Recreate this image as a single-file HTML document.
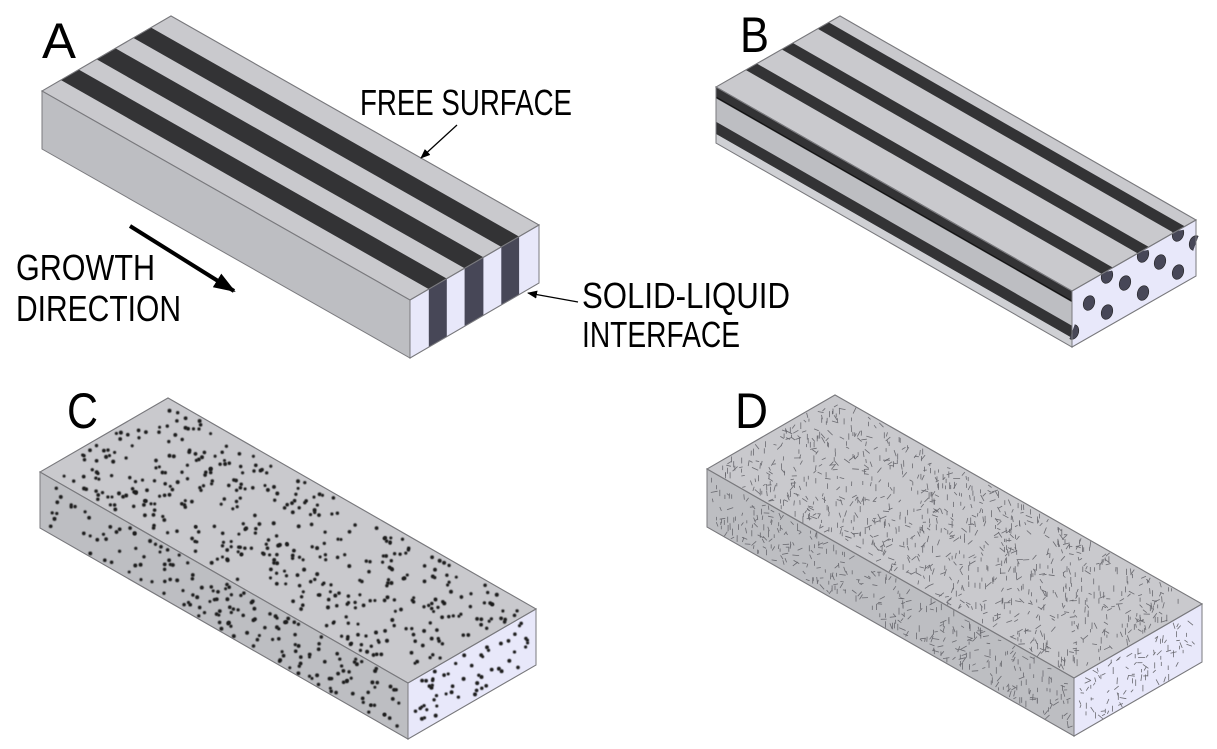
<!DOCTYPE html>
<html><head><meta charset="utf-8"><style>
html,body{margin:0;padding:0;background:#fff;}
svg{display:block;}
text{font-family:"Liberation Sans",sans-serif;fill:#000;}
</style></head><body>
<svg id="s" width="1217" height="749" viewBox="0 0 1217 749" xmlns="http://www.w3.org/2000/svg">
<defs>
<filter id="bl" x="-1" y="-1" width="3" height="3"><feGaussianBlur stdDeviation="0.5"/></filter>
<marker id="ah" markerWidth="10" markerHeight="8" refX="9" refY="4" orient="auto" markerUnits="userSpaceOnUse"><path d="M0,0 L10,4 L0,8 z" fill="#000"/></marker>
<marker id="ah2" markerWidth="22" markerHeight="16" refX="20" refY="8" orient="auto" markerUnits="userSpaceOnUse"><path d="M0,0 L22,8 L0,16 z" fill="#000"/></marker>
</defs>
<g id="g"></g>
<text x="42" y="58" font-size="50" textLength="34" lengthAdjust="spacingAndGlyphs">A</text>
<text x="740" y="52" font-size="50" textLength="29" lengthAdjust="spacingAndGlyphs">B</text>
<text x="67" y="428" font-size="50" textLength="31" lengthAdjust="spacingAndGlyphs">C</text>
<text x="735" y="428" font-size="50" textLength="33" lengthAdjust="spacingAndGlyphs">D</text>
<text x="360" y="115" font-size="36" textLength="212" lengthAdjust="spacingAndGlyphs">FREE SURFACE</text>
<text x="16" y="280" font-size="36" textLength="139" lengthAdjust="spacingAndGlyphs">GROWTH</text>
<text x="16" y="321" font-size="36" textLength="165" lengthAdjust="spacingAndGlyphs">DIRECTION</text>
<text x="582" y="308" font-size="36" textLength="208" lengthAdjust="spacingAndGlyphs">SOLID-LIQUID</text>
<text x="582" y="347" font-size="36" textLength="158" lengthAdjust="spacingAndGlyphs">INTERFACE</text>
<line x1="457" y1="125" x2="421" y2="158" stroke="#000" stroke-width="1.3" marker-end="url(#ah)"/>
<line x1="578" y1="302" x2="528" y2="293" stroke="#000" stroke-width="1.3" marker-end="url(#ah)"/>
<line x1="130" y1="226" x2="234" y2="291" stroke="#000" stroke-width="4" marker-end="url(#ah2)"/>
</svg>
<script>
(function(){
var g=document.getElementById('g'),NS='http://www.w3.org/2000/svg';
function el(n,a){var e=document.createElementNS(NS,n);for(var k in a)e.setAttribute(k,a[k]);g.appendChild(e);return e;}
function pts(a){return a.map(function(p){return p[0].toFixed(1)+','+p[1].toFixed(1);}).join(' ');}
function poly(a,f,s){el('polygon',{points:pts(a),fill:f,stroke:s||'none','stroke-width':1});}
var st=987654321;function rnd(){st|=0;st=st+0x6D2B79F5|0;var t=Math.imul(st^st>>>15,1|st);t=t+Math.imul(t^t>>>7,61|t)^t;return((t^t>>>14)>>>0)/4294967296;}
function box(L,Bk,F,h){
 var w=[Bk[0]-L[0],Bk[1]-L[1]],l=[F[0]-L[0],F[1]-L[1]];
 var R=[F[0]+w[0],F[1]+w[1]];
 return {L:L,Bk:Bk,F:F,R:R,w:w,l:l,h:h,
  top:function(u,v){return [L[0]+w[0]*u+l[0]*v,L[1]+w[1]*u+l[1]*v];},
  side:function(v,d){return [L[0]+l[0]*v,L[1]+l[1]*v+h*d];},
  front:function(u,d){return [F[0]+w[0]*u,F[1]+w[1]*u+h*d];}};
}
var TOP='#c9c9cd',SIDE='#bdbec2',FRONT='#e8e8fa',OUT='#7a7a7e';
function base(b){
 poly([b.L,b.Bk,b.R,b.F],TOP,OUT);
 poly([b.L,b.F,b.front(0,1),b.side(0,1)],SIDE,OUT);
 poly([b.F,b.R,b.front(1,1),b.front(0,1)],FRONT,OUT);
}
// A
var A=box([42,91],[171,16],[410,300],58);base(A);
[[0.146,0.285],[0.423,0.569],[0.708,0.846]].forEach(function(s){
 poly([A.top(s[0],0),A.top(s[1],0),A.top(s[1],1),A.top(s[0],1)],'#333335');
 poly([A.front(s[0],0),A.front(s[1],0),A.front(s[1],1),A.front(s[0],1)],'#474757');
});
poly([A.L,A.Bk,A.R,A.F],'none',OUT);poly([A.F,A.R,A.front(1,1),A.front(0,1)],'none',OUT);
// B
var B=box([716,87],[840,16],[1072,291],56);base(B);
[[0.24,0.33],[0.53,0.62],[0.82,0.91]].forEach(function(s){
 poly([B.top(s[0],0),B.top(s[1],0),B.top(s[1],1),B.top(s[0],1)],'#333335');
});
[[0,0.2],[0.62,0.84]].forEach(function(s){
 poly([B.side(0,s[0]),B.side(1,s[0]),B.side(1,s[1]),B.side(0,s[1])],'#333335');
});
poly([B.side(0,0.84),B.side(1,0.84),B.side(1,1),B.side(0,1)],'#cfd0d4');
el('line',{x1:B.side(0,0.18)[0],y1:B.side(0,0.18)[1],x2:B.side(1,0.18)[0],y2:B.side(1,0.18)[1],stroke:'#111','stroke-width':1});
var circ=[[1089,303],[1107,312],[1125,283],[1143,293],[1160,262],[1178,272],[1195,243],[1107,276],[1143,255],[1178,234],[1073,332]];
var cp=el('clipPath',{id:'cb'});var cpp=document.createElementNS(NS,'polygon');cpp.setAttribute('points',pts([B.F,B.R,B.front(1,1),B.front(0,1)]));cp.appendChild(cpp);
circ.forEach(function(c){el('ellipse',{cx:c[0],cy:c[1],rx:5.5,ry:7.5,fill:'#474757',stroke:'#222','stroke-width':0.6,transform:'rotate(20 '+c[0]+' '+c[1]+')','clip-path':'url(#cb)'});});
poly([B.L,B.Bk,B.R,B.F],'none',OUT);poly([B.F,B.R,B.front(1,1),B.front(0,1)],'none',OUT);poly([B.L,B.F,B.front(0,1),B.side(0,1)],'none',OUT);
// C
var C=box([40,472],[168,398],[408,683],56);base(C);
function dot(p,r){el('circle',{cx:p[0].toFixed(1),cy:p[1].toFixed(1),r:r,fill:'#1a1a1a',filter:'url(#bl)'});}
for(var i=0;i<430;i++)dot(C.top(0.03+rnd()*0.94,0.01+rnd()*0.98),1.5+rnd()*0.5);
for(i=0;i<175;i++)dot(C.side(0.01+rnd()*0.98,0.05+rnd()*0.9),1.5+rnd()*0.5);
for(i=0;i<55;i++)dot(C.front(0.04+rnd()*0.92,0.06+rnd()*0.88),1.5+rnd()*0.5);
// D
var D=box([707,469],[835,395],[1074,678],58);base(D);
function dash(p,len){var a=rnd()*Math.PI;if(rnd()<0.35)a=Math.PI/2;var dx=Math.cos(a)*len/2,dy=Math.sin(a)*len/2;
 el('line',{x1:(p[0]-dx).toFixed(1),y1:(p[1]-dy).toFixed(1),x2:(p[0]+dx).toFixed(1),y2:(p[1]+dy).toFixed(1),stroke:'#6a6a70','stroke-width':0.8});}
for(i=0;i<1000;i++)dash(D.top(0.02+rnd()*0.96,0.01+rnd()*0.98),3+rnd()*4);
for(i=0;i<380;i++)dash(D.side(0.01+rnd()*0.98,0.06+rnd()*0.88),3+rnd()*4);
for(i=0;i<100;i++)dash(D.front(0.04+rnd()*0.92,0.06+rnd()*0.88),3+rnd()*4);
[C,D].forEach(function(b){poly([b.L,b.Bk,b.R,b.F],'none',OUT);poly([b.F,b.R,b.front(1,1),b.front(0,1)],'none',OUT);poly([b.L,b.F,b.front(0,1),b.side(0,1)],'none',OUT);});
})();
</script>
</body></html>
